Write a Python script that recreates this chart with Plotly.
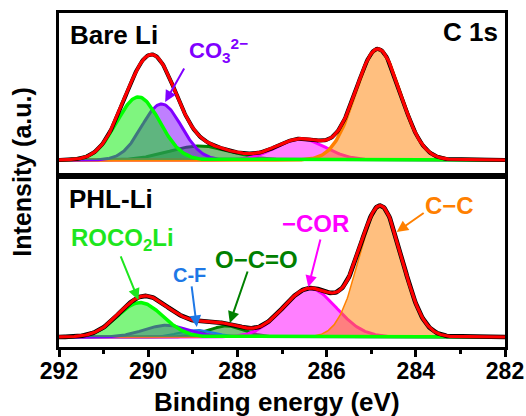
import numpy as np
import plotly.graph_objects as go
from plotly.subplots import make_subplots

# Binding-energy grid for the fitted curves (eV)
energy = np.round(np.arange(282.0, 292.0001, 0.02), 3)

# C 1s peak fit, Bare Li: centre (eV), height (a.u.), FWHM (eV)
bare_names = ["O-C=O", "-COR", "C-C", "CO3", "ROCO2Li"]
bare_centre = [288.84, 286.58, 284.85, 289.70, 290.22]
bare_height = [0.14, 0.21, 1.11, 0.56, 0.63]
bare_fwhm = [1.65, 1.30, 1.18, 1.04, 1.13]

# C 1s peak fit, PHL-Li
phl_names = ["O-C=O", "C-F", "-COR", "C-C", "CO3", "ROCO2Li"]
phl_centre = [288.24, 288.90, 286.38, 284.79, 289.59, 290.18]
phl_height = [0.11, 0.07, 0.484, 1.30, 0.117, 0.344]
phl_fwhm = [0.94, 0.94, 1.41, 1.13, 1.18, 1.20]

x_ticks = [292, 290, 288, 286, 284, 282]

line_colour = {
    "ROCO2Li": "#00FF00", "CO3": "#8000FF", "O-C=O": "#008000",
    "-COR": "#FF00FF", "C-C": "#FF8000", "C-F": "#1E78E6",
}
fill_colour = {
    "ROCO2Li": "rgba(0,235,0,0.5)", "CO3": "rgba(128,0,255,0.5)",
    "O-C=O": "rgba(0,128,0,0.5)", "-COR": "rgba(255,0,255,0.5)",
    "C-C": "rgba(255,128,0,0.5)", "C-F": "rgba(30,120,230,0.5)",
}
line_width = {"ROCO2Li": 3.5, "CO3": 3, "O-C=O": 3, "-COR": 3, "C-C": 3, "C-F": 2}

FONT = "Liberation Sans, Arial, sans-serif"


def peak(centre, height, fwhm):
    sigma = fwhm / 2.3548
    return height * np.exp(-((energy - centre) ** 2) / (2 * sigma ** 2))


fig = make_subplots(rows=2, cols=1, shared_xaxes=True, vertical_spacing=0)


def add_panel(row, names, centres, heights, fwhms, cc_width, data_width):
    total = np.zeros_like(energy)
    for name, c, h, w in zip(names, centres, heights, fwhms):
        y = peak(c, h, w)
        total += y
        lw = cc_width if name == "C-C" else line_width[name]
        fig.add_trace(go.Scatter(
            x=energy, y=y, mode="lines", fill="tozeroy",
            fillcolor=fill_colour[name],
            line=dict(color=line_colour[name], width=lw),
            hoverinfo="skip", showlegend=False), row=row, col=1)
    # measured spectrum (black) and fitted envelope (red)
    fig.add_trace(go.Scatter(x=energy, y=total, mode="lines",
                             line=dict(color="black", width=data_width),
                             hoverinfo="skip", showlegend=False), row=row, col=1)
    fig.add_trace(go.Scatter(x=energy, y=total, mode="lines",
                             line=dict(color="#FF0000", width=3.2),
                             hoverinfo="skip", showlegend=False), row=row, col=1)


add_panel(1, bare_names, bare_centre, bare_height, bare_fwhm, 3.5, 4.0)
add_panel(2, phl_names, phl_centre, phl_height, phl_fwhm, 1.5, 4.6)

split = 0.5105
frame = dict(showline=True, mirror=True, linewidth=3, linecolor="black",
             showgrid=False, zeroline=False, automargin=False)

fig.update_layout(
    width=526, height=416,
    margin=dict(l=59, r=21, t=13, b=69, autoexpand=False),
    paper_bgcolor="white", plot_bgcolor="white",
    font=dict(family=FONT, color="black"),
    xaxis=dict(range=[292, 282], showticklabels=False, ticks="", **frame),
    yaxis=dict(range=[-0.165, 1.47], domain=[split, 1], showticklabels=False,
               ticks="", **frame),
    xaxis2=dict(range=[292, 282], tickvals=x_ticks,
                ticktext=[str(v) for v in x_ticks],
                ticks="outside", ticklen=7, tickwidth=2.5, tickcolor="black",
                ticklabelstandoff=-6,
                minor=dict(dtick=1, tick0=282, ticks="outside", ticklen=4,
                           tickwidth=2.5, tickcolor="black"),
                tickfont=dict(size=23, family=FONT, weight="bold"), **frame),
    yaxis2=dict(range=[-0.10, 1.605], domain=[0, split], showticklabels=False,
                ticks="", **frame),
)


def label(text, x, y, row, colour="black", size=24, anchor="left"):
    fig.add_annotation(
        text=f"<b>{text}</b>", x=x, y=y,
        xref="x" if row == 1 else "x2", yref="y" if row == 1 else "y2",
        xanchor=anchor, yanchor="middle", showarrow=False,
        font=dict(family=FONT, size=size, color=colour))


def arrow(x_tail, y_tail, x_head, y_head, row, colour):
    xr = "x" if row == 1 else "x2"
    yr = "y" if row == 1 else "y2"
    fig.add_annotation(
        text="", x=x_head, y=y_head, ax=x_tail, ay=y_tail,
        xref=xr, yref=yr, axref=xr, ayref=yr, showarrow=True,
        arrowhead=2, arrowsize=1.15, arrowwidth=2, arrowcolor=colour)


# Bare Li panel
label("Bare Li", 291.80, 1.255, 1, size=26)
label("C 1s", 282.12, 1.28, 1, size=26, anchor="right")
label("CO<sub>3</sub><sup>2−</sup>", 289.13, 1.10, 1, colour="#8000FF", size=22)
arrow(289.175, 0.93, 289.62, 0.58, 1, "#8000FF")

# PHL-Li panel
label("PHL-Li", 291.82, 1.38, 2, size=26)
label("ROCO<sub>2</sub>Li", 291.77, 0.97, 2, colour="#1EE61E", size=24)
arrow(290.63, 0.82, 290.22, 0.37, 2, "#1EE61E")
label("C-F", 289.49, 0.62, 2, colour="#1E78E6", size=20)
arrow(289.03, 0.52, 288.91, 0.10, 2, "#1E78E6")
label("O−C=O", 288.54, 0.77, 2, colour="#008000", size=24)
arrow(287.76, 0.67, 288.17, 0.14, 2, "#008000")
label("−COR", 287.05, 1.13, 2, colour="#FF00FF", size=24)
arrow(286.13, 0.99, 286.41, 0.50, 2, "#FF00FF")
label("C−C", 283.83, 1.31, 2, colour="#FF8000", size=24)
arrow(283.79, 1.25, 284.43, 1.05, 2, "#FF8000")

# axis titles
fig.add_annotation(text="<b>Intensity (a.u.)</b>", xref="paper", yref="paper",
                   x=-0.083, y=0.525, textangle=-90, showarrow=False,
                   xanchor="center", yanchor="middle",
                   font=dict(family=FONT, size=25, color="black"))
fig.add_annotation(text="<b>Binding energy (eV)</b>", xref="paper", yref="paper",
                   x=0.489, y=-0.165, showarrow=False,
                   xanchor="center", yanchor="middle",
                   font=dict(family=FONT, size=26, color="black"))

fig.write_html("out.html")
